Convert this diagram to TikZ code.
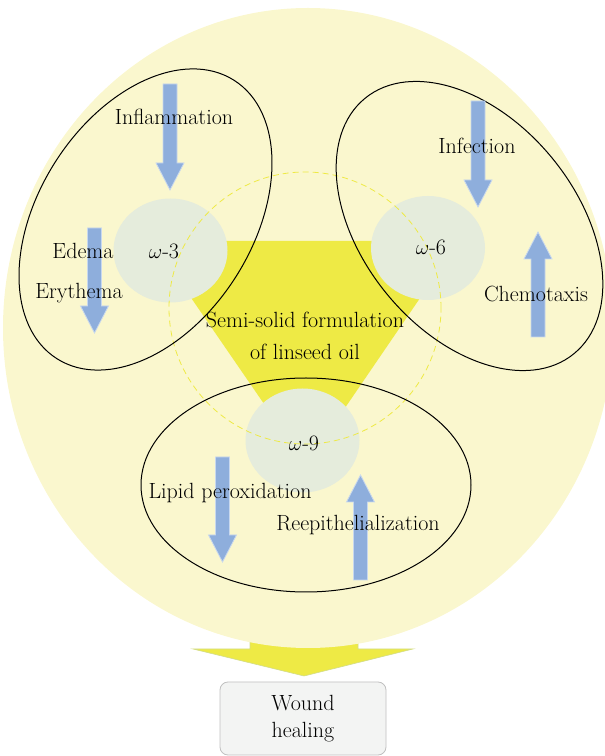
\documentclass[tikz,border=0pt]{standalone}
\usepackage{tikz}
\usetikzlibrary{shapes.geometric}

\definecolor{paleyellow}{HTML}{FAF7CE}
\definecolor{oilyellow}{HTML}{EEEA45}
\definecolor{oilrim}{HTML}{D2DC8A}
\definecolor{omegagray}{HTML}{E5ECDC}
\definecolor{arrowblue}{HTML}{8EAEDC}
\definecolor{arrowrim}{HTML}{C8D8EE}
\definecolor{boxgray}{HTML}{F3F4F3}
\definecolor{boxrim}{HTML}{C0C0C0}

\tikzset{
  lbl/.style={font=\fontsize{22}{30}\selectfont, inner sep=0pt},
  omega/.style={ellipse, fill=omegagray, minimum width=114pt, minimum height=104pt, inner sep=0pt},
  bluearrow/.style={fill=arrowblue, draw=arrowrim, line width=0.8pt},
  group/.style={draw=black, line width=1pt},
}

% x, tail y, tip y
\newcommand{\blockarrow}[3]{%
  \pgfmathsetmacro{\arrowhb}{#3+27*sign(#2-#3)}%
  \filldraw[bluearrow] (#1-7,#2) -- (#1+7,#2) -- (#1+7,\arrowhb) -- (#1+14,\arrowhb)
    -- (#1,#3) -- (#1-14,\arrowhb) -- (#1-7,\arrowhb) -- cycle;}

\begin{document}
\begin{tikzpicture}[x=1pt,y=1pt]
  \useasboundingbox (0,0) rectangle (605,756);
  % arrow down to wound healing
  \filldraw[fill=oilyellow, draw=oilrim, line width=0.6pt] (250,160) -- (358,160) -- (358,107) -- (413,107)
    -- (304,80) -- (193,107) -- (250,107) -- cycle;
  % background
  \fill[paleyellow] (308,428) ellipse [x radius=305, y radius=320];
  % linseed oil triangle
  \fill[oilyellow] (152,515) -- (459,515) -- (306,291) -- cycle;
  % omega circles
  \node[omega] (o3) at (170.5,505.5) {};
  \node[omega] (o6) at (428,508) {};
  \node[omega] (o9) at (302.5,315.5) {};
  \draw[oilyellow, dash pattern=on 6pt off 4pt, line width=0.8pt] (305,448) circle [radius=136];
  % groups
  \draw[group] (145.5,536.5) ellipse [x radius=165, y radius=107, rotate=57.5]; % omega-3
  \draw[group] (469.5,530) ellipse [x radius=165, y radius=107, rotate=129.3]; % omega-6
  \draw[group] (306,271) ellipse [x radius=165, y radius=107]; % omega-9
  % blue arrows
  \blockarrow{170}{672}{566}   % inflammation
  \blockarrow{94.5}{528}{423}  % edema, erythema
  \blockarrow{478}{655}{549}   % infection
  \blockarrow{538}{419}{524}   % chemotaxis
  \blockarrow{222.5}{299}{194} % lipid peroxidation
  \blockarrow{360.5}{176}{281} % reepithelialization
  % labels
  \node[lbl] (infl) at (174,639) {Inflammation};
  \node[lbl] (edema) at (83,505) {Edema};
  \node[lbl] (eryth) at (79,463) {Erythema};
  \node[lbl] (w3) at (164,505) {$\omega$-3};
  \node[lbl] (infect) at (477,610) {Infection};
  \node[lbl] (w6) at (431,509) {$\omega$-6};
  \node[lbl] (chemo) at (536,462) {Chemotaxis};
  \node[lbl, align=center, font=\fontsize{22}{32}\selectfont] (oil) at (305,420) {Semi-solid formulation\\of linseed oil};
  \node[lbl] (w9) at (304,313) {$\omega$-9};
  \node[lbl] (lipid) at (230,263) {Lipid peroxidation};
  \node[lbl] (reepi) at (358,231) {Reepithelialization};
  % wound healing
  \node[lbl, align=center, font=\fontsize{22}{27}\selectfont, draw=boxrim, fill=boxgray, line width=0.8pt,
    rounded corners=8pt, minimum width=166pt, minimum height=73pt] (wound) at (303,37.5) {Wound\\healing};
\end{tikzpicture}
\end{document}
